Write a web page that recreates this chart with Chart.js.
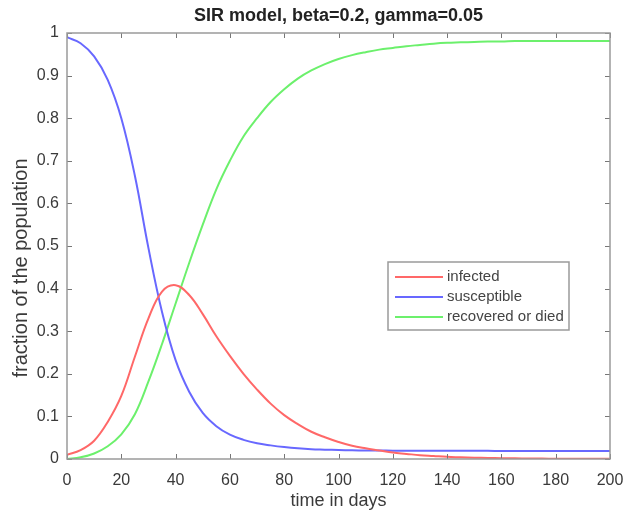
<!DOCTYPE html>
<html>
<head>
<meta charset="utf-8">
<script src="https://cdn.jsdelivr.net/npm/chart.js@4/dist/chart.umd.min.js"></script>
<style>
  html, body { margin: 0; padding: 0; background: #fff; }
  #wrap { width: 636px; height: 512px; }
</style>
</head>
<body>
<div id="wrap"><canvas id="sir"></canvas></div>
<script>
// SIR model curves, values every 5 days
const days = [0, 5, 10, 15, 20, 25, 30, 35, 40, 45, 50, 55, 60, 65, 70, 75, 80, 85, 90, 95, 100,
  105, 110, 115, 120, 125, 130, 135, 140, 145, 150, 155, 160, 165, 170, 175, 180, 185, 190, 195, 200];

const infected = [0.01, 0.021, 0.043, 0.087, 0.148, 0.24, 0.33, 0.393, 0.408, 0.385, 0.34,
  0.288, 0.242, 0.2, 0.163, 0.13, 0.103, 0.082, 0.064, 0.051, 0.04,
  0.031, 0.025, 0.02, 0.015, 0.012, 0.009, 0.007, 0.005, 0.004, 0.003,
  0.0025, 0.002, 0.0015, 0.001, 0.0009, 0.0008, 0.0006, 0.0005, 0.0004, 0.0003];

const susceptible = [0.99, 0.976, 0.945, 0.89, 0.80, 0.665, 0.495, 0.345, 0.232, 0.158, 0.108,
  0.077, 0.057, 0.045, 0.037, 0.032, 0.028, 0.025, 0.023, 0.022, 0.021,
  0.0205, 0.020, 0.0198, 0.0196, 0.0195, 0.0194, 0.0193, 0.0192, 0.0192, 0.0191,
  0.0191, 0.019, 0.019, 0.019, 0.019, 0.019, 0.019, 0.019, 0.019, 0.019];

const recovered = [0, 0.004, 0.013, 0.03, 0.058, 0.105, 0.182, 0.27, 0.365, 0.46, 0.55,
  0.633, 0.70, 0.757, 0.80, 0.838, 0.868, 0.893, 0.912, 0.927, 0.939,
  0.948, 0.955, 0.961, 0.965, 0.969, 0.972, 0.975, 0.977, 0.978, 0.979,
  0.98, 0.98, 0.981, 0.981, 0.981, 0.981, 0.981, 0.981, 0.981, 0.981];

const seriesNames = ['infected', 'susceptible', 'recovered or died'];
const seriesColors = ['#ff6868', '#6868ff', '#6cf06c'];

const xTicks = [0, 20, 40, 60, 80, 100, 120, 140, 160, 180, 200];
const yTicks = [0, 0.1, 0.2, 0.3, 0.4, 0.5, 0.6, 0.7, 0.8, 0.9, 1];

const titleText = 'SIR model, beta=0.2, gamma=0.05';
const yLabel = 'fraction of the population';

const FONT = 'Liberation Sans, Arial, Helvetica, sans-serif';
const TEXT = '#3a3a3a';
const FRAME = '#9a9a9a';

function toPoints(ys) {
  return days.map((d, i) => ({ x: d, y: ys[i] }));
}

// MATLAB style box with ticks pointing inwards on all four sides
const boxTicks = {
  id: 'boxTicks',
  afterDatasetsDraw(chart) {
    const { ctx, chartArea: a, scales } = chart;
    ctx.save();
    ctx.strokeStyle = '#777';
    ctx.lineWidth = 1;
    const len = 5;
    ctx.beginPath();
    xTicks.forEach(v => {
      const px = Math.round(scales.x.getPixelForValue(v)) + 0.5;
      ctx.moveTo(px, a.bottom); ctx.lineTo(px, a.bottom - len);
      ctx.moveTo(px, a.top); ctx.lineTo(px, a.top + len);
    });
    yTicks.forEach(v => {
      const py = Math.round(scales.y.getPixelForValue(v)) + 0.5;
      ctx.moveTo(a.left, py); ctx.lineTo(a.left + len, py);
      ctx.moveTo(a.right, py); ctx.lineTo(a.right - len, py);
    });
    ctx.stroke();
    ctx.strokeStyle = FRAME;
    ctx.lineWidth = 1.5;
    ctx.strokeRect(a.left, a.top, a.right - a.left, a.bottom - a.top);
    ctx.restore();
  }
};

// title centred over the plot box, y label on the left
const textLabels = {
  id: 'textLabels',
  afterDraw(chart) {
    const { ctx, chartArea: a } = chart;
    ctx.save();
    ctx.fillStyle = '#222';
    ctx.font = 'bold 18px ' + FONT;
    ctx.textAlign = 'center';
    ctx.textBaseline = 'middle';
    ctx.fillText(titleText, (a.left + a.right) / 2, 16);

    ctx.fillStyle = TEXT;
    ctx.font = '20px ' + FONT;
    ctx.translate(21, 268);
    ctx.rotate(-Math.PI / 2);
    ctx.fillText(yLabel, 0, 0);
    ctx.restore();
  }
};

// legend box inside the plot, right of centre
const innerLegend = {
  id: 'innerLegend',
  afterDraw(chart) {
    const { ctx, chartArea: a } = chart;
    const left = a.left + 321, top = a.top + 229, w = 181, h = 68;
    ctx.save();
    ctx.fillStyle = '#fff';
    ctx.fillRect(left, top, w, h);
    ctx.strokeStyle = FRAME;
    ctx.lineWidth = 1.5;
    ctx.strokeRect(left, top, w, h);
    ctx.font = '15px ' + FONT;
    ctx.textBaseline = 'middle';
    chart.data.datasets.forEach((ds, i) => {
      const y = top + 15 + i * 20;
      ctx.strokeStyle = ds.borderColor;
      ctx.lineWidth = 2;
      ctx.beginPath();
      ctx.moveTo(left + 7, y);
      ctx.lineTo(left + 55, y);
      ctx.stroke();
      ctx.fillStyle = '#444';
      ctx.fillText(ds.label, left + 59, y);
    });
    ctx.restore();
  }
};

new Chart(document.getElementById('sir').getContext('2d'), {
  type: 'line',
  data: {
    datasets: [
      { label: seriesNames[0], data: toPoints(infected), borderColor: seriesColors[0] },
      { label: seriesNames[1], data: toPoints(susceptible), borderColor: seriesColors[1] },
      { label: seriesNames[2], data: toPoints(recovered), borderColor: seriesColors[2] }
    ].map(ds => Object.assign(ds, {
      borderWidth: 2,
      pointRadius: 0,
      fill: false,
      tension: 0.4
    }))
  },
  options: {
    responsive: true,
    maintainAspectRatio: false,
    animation: false,
    layout: { padding: { left: 0, right: 26, top: 33, bottom: 0 } },
    plugins: {
      legend: { display: false },
      tooltip: { enabled: false },
      title: { display: false }
    },
    scales: {
      x: {
        type: 'linear',
        min: 0,
        max: 200,
        afterBuildTicks: s => { s.ticks = xTicks.map(v => ({ value: v })); },
        afterFit: s => { s.height = 53; },
        grid: { display: false },
        border: { display: false },
        ticks: { color: TEXT, font: { family: FONT, size: 16 }, padding: 4, maxRotation: 0 },
        title: { display: true, text: 'time in days', color: TEXT, font: { family: FONT, size: 18 }, padding: { top: 0, bottom: 0 } }
      },
      y: {
        min: 0,
        max: 1,
        afterBuildTicks: s => { s.ticks = yTicks.map(v => ({ value: v })); },
        afterFit: s => { s.width = 67; },
        grid: { display: false, drawTicks: false },
        border: { display: false },
        ticks: {
          color: TEXT,
          font: { family: FONT, size: 16 },
          padding: 8,
          callback: v => String(Math.round(v * 10) / 10)
        }
      }
    }
  },
  plugins: [boxTicks, textLabels, innerLegend]
});
</script>
</body>
</html>
